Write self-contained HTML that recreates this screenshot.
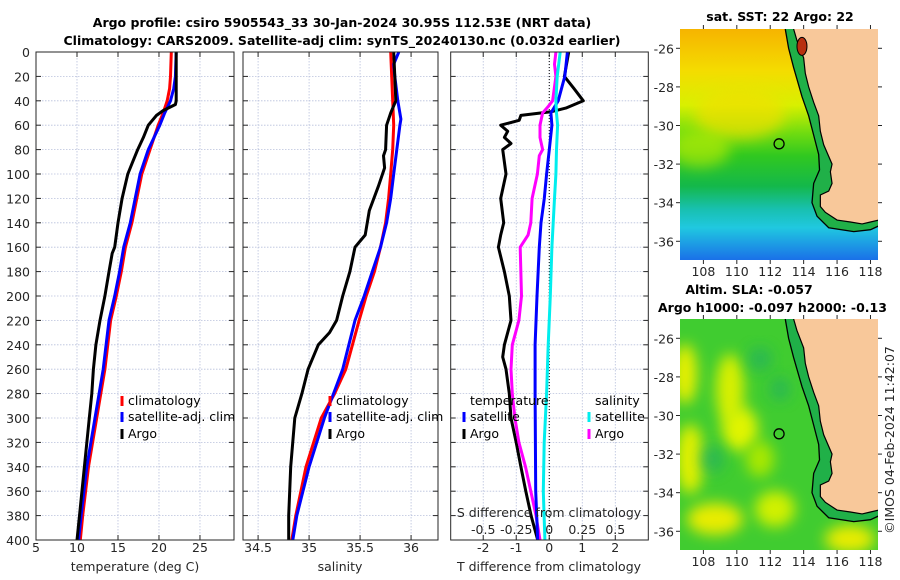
<!DOCTYPE html>
<html><head><meta charset="utf-8"><style>
body{margin:0;background:#fff;}
svg{display:block;font-family:"DejaVu Sans","Liberation Sans",sans-serif;}
</style></head><body>
<svg id="chart" width="900" height="580" viewBox="0 0 900 580" xmlns="http://www.w3.org/2000/svg">
<defs>
<linearGradient id="sstGrad" x1="0" y1="0" x2="0" y2="1">
<stop offset="0" stop-color="#f6b400"/><stop offset="0.18" stop-color="#f4dc00"/>
<stop offset="0.33" stop-color="#d8f000"/><stop offset="0.45" stop-color="#70dc10"/>
<stop offset="0.55" stop-color="#30c820"/><stop offset="0.68" stop-color="#14b84a"/>
<stop offset="0.78" stop-color="#18c0b0"/><stop offset="0.86" stop-color="#20c8e0"/>
<stop offset="1" stop-color="#1a70e8"/></linearGradient>
<filter id="blur" x="-50%" y="-50%" width="200%" height="200%"><feGaussianBlur stdDeviation="7"/></filter>
<clipPath id="clipTop"><rect x="680" y="29" width="198" height="231"/></clipPath>
<clipPath id="clipBot"><rect x="680" y="319" width="198" height="231"/></clipPath>
</defs>
<g id="g-title" font-weight="bold" font-size="12.5" fill="#000" text-anchor="middle">
<text x="342" y="27">Argo profile: csiro 5905543_33 30-Jan-2024 30.95S 112.53E (NRT data)</text>
<text x="342" y="45">Climatology: CARS2009. Satellite-adj clim: synTS_20240130.nc (0.032d earlier)</text>
</g>
<g id="panels"></g>
<g id="maps"></g>
</svg>
<script>
// ---------- data ----------
const depthTicks=[0,20,40,60,80,100,120,140,160,180,200,220,240,260,280,300,320,340,360,380,400];
const tempTicks=[5,10,15,20,25];
const salTicks=[34.5,35,35.5,36];
const dtTicks=[-2,-1,0,1,2];
const dsTicks=[-0.5,-0.25,0,0.25,0.5];
const dsTickLabels=["-0.5","-0.25","0","0.25","0.5"];

const tClimDepth=[0,20,30,40,50,60,80,100,120,140,160,180,200,220,260,300,340,380,400];
const tClim=[21.5,21.4,21.3,21.0,20.5,19.9,18.9,17.9,17.3,16.7,15.9,15.4,14.8,14.1,13.4,12.4,11.4,10.7,10.4];
const tSatDepth=[0,20,30,40,50,60,80,100,120,140,160,180,200,220,260,300,340,380,400];
const tSat=[22.1,22.0,21.8,21.4,20.7,20.1,18.7,17.7,17.1,16.5,15.7,15.2,14.6,13.9,13.2,12.2,11.2,10.5,10.2];
const tArgoDepth=[0,20,40,43,48,52,60,70,80,90,100,120,140,160,165,180,200,220,240,260,280,300,340,380,400];
const tArgo=[22.1,22.1,22.1,22.0,20.5,19.7,18.7,18.1,17.4,16.8,16.2,15.5,15.0,14.6,14.3,13.9,13.4,12.8,12.3,12.0,11.8,11.5,10.9,10.3,10.0];

const sClimDepth=[0,20,40,60,80,100,120,140,160,180,200,220,260,280,300,340,380,400];
const sClim=[35.80,35.81,35.82,35.83,35.82,35.80,35.78,35.75,35.70,35.64,35.56,35.49,35.36,35.25,35.12,34.97,34.87,34.83];
const sSatDepth=[0,10,20,40,55,60,80,100,120,140,160,180,200,220,260,300,340,380,400];
const sSat=[35.88,35.83,35.84,35.87,35.90,35.89,35.86,35.83,35.80,35.76,35.70,35.62,35.54,35.45,35.33,35.15,35.00,34.88,34.84];
const sArgoDepth=[0,20,40,50,60,80,85,95,110,130,150,160,180,200,220,230,240,260,280,300,340,380,400];
const sArgo=[35.83,35.84,35.85,35.80,35.76,35.75,35.73,35.74,35.68,35.59,35.55,35.45,35.40,35.33,35.27,35.20,35.09,34.99,34.93,34.86,34.82,34.80,34.80];

const dDepth=[0,20,40,50,60,80,100,120,140,160,200,240,280,320,360,400];
const dTSat=[0.55,0.47,0.27,0.05,0.08,0.0,-0.08,-0.15,-0.25,-0.3,-0.37,-0.43,-0.43,-0.42,-0.41,-0.35];
const dSSat=[0.083,0.06,0.05,0.055,0.063,0.055,0.05,0.04,0.03,0.02,0.008,-0.008,-0.02,-0.038,-0.045,-0.033];
const dTArgoDepth=[0,20,30,40,46,49,52,56,60,65,70,75,80,100,120,140,150,160,180,200,220,240,250,260,280,300,320,340,360,380,400];
const dTArgo=[0.59,0.46,0.75,1.03,0.5,0.05,-0.86,-0.91,-1.47,-1.26,-1.36,-1.16,-1.41,-1.31,-1.47,-1.38,-1.47,-1.54,-1.36,-1.21,-1.16,-1.36,-1.41,-1.31,-1.21,-1.16,-1.0,-0.86,-0.71,-0.55,-0.35];
const dSArgoDepth=[0,10,20,40,45,50,60,70,80,85,100,120,140,150,160,200,220,240,260,280,300,320,340,360,380,400];
const dSArgo=[0.05,0.04,0.05,0.025,-0.01,-0.05,-0.07,-0.07,-0.05,-0.075,-0.09,-0.13,-0.14,-0.16,-0.22,-0.21,-0.23,-0.28,-0.29,-0.28,-0.26,-0.23,-0.18,-0.14,-0.1,-0.07];

const lonTicks=[108,110,112,114,116,118];
const latTicks=[-26,-28,-30,-32,-34,-36];
const coastLon=[113.4,113.6,114.0,114.1,114.3,114.6,114.9,115.0,115.2,115.5,115.7,115.6,115.7,115.5,115.0,115.0,115.3,116.0,116.8,117.5,118.0,118.5];
const coastLat=[-25,-25.6,-26.5,-27.3,-28,-28.8,-29.5,-30.3,-31,-31.6,-32,-32.4,-33,-33.4,-33.6,-34.2,-34.5,-34.9,-35.0,-35.1,-35.0,-34.9];
const isoLon=[112.9,113.1,113.4,113.9,114.3,114.6,114.9,114.95,114.6,114.5,114.8,115.5,117.0,118.0,118.5];
const isoLat=[-25,-26,-27,-28.5,-29.5,-30.5,-31.5,-32.3,-33,-34,-34.7,-35.3,-35.5,-35.4,-35.2];
const argoLon=112.53, argoLat=-30.95;

// ---------- helpers ----------
const NS="http://www.w3.org/2000/svg";
const FS=12.5;
function el(tag,attrs,parent,txt){const e=document.createElementNS(NS,tag);for(const k in attrs)e.setAttribute(k,attrs[k]);if(txt!==undefined)e.textContent=txt;parent.appendChild(e);return e;}
const Y0=52,Y1=540;
const yD=d=>Y0+(Y1-Y0)*d/400;
const panels=document.getElementById('panels');
function mkX(x0,x1,v0,v1){return v=>x0+(x1-x0)*(v-v0)/(v1-v0);}
function drawPanel(name,x0,x1,ticks,labels,xfn,labelY){
  const g=el('g',{},panels);
  
  
  el('rect',{x:x0,y:Y0,width:x1-x0,height:Y1-Y0,fill:'#fff'},g);
  depthTicks.forEach(d=>{if(d>0&&d<400){const l=el('line',{x1:x0,x2:x1,y1:yD(d),y2:yD(d),stroke:'#b8c0dc','stroke-width':0.8,'stroke-dasharray':'1.5,1.5'},g);
   }
   el('line',{x1:x0,x2:x0+5,y1:yD(d),y2:yD(d),stroke:'#262626'},g);el('line',{x1:x1-5,x2:x1,y1:yD(d),y2:yD(d),stroke:'#262626'},g);});
  ticks.forEach((t,i)=>{const x=xfn(t);
   if(x>x0+1&&x<x1-1){const l=el('line',{x1:x,x2:x,y1:Y0,y2:Y1,stroke:'#b8c0dc','stroke-width':0.8,'stroke-dasharray':'1.5,1.5'},g);
   }
   el('line',{x1:x,x2:x,y1:Y1,y2:Y1-5,stroke:'#262626'},g);el('line',{x1:x,x2:x,y1:Y0,y2:Y0+5,stroke:'#262626'},g);
   const tl=el('text',{x:x,y:labelY,'text-anchor':'middle','font-size':FS,fill:'#262626'},g,labels[i]);
   });
  return g;
}
function frame(g,x0,x1){el('rect',{x:x0,y:Y0,width:x1-x0,height:Y1-Y0,fill:'none',stroke:'#262626','stroke-width':1},g);}
function line(g,name,xs,ds,xfn,color,w){
  const pts=xs.map((v,i)=>xfn(v).toFixed(1)+','+yD(ds[i]).toFixed(1)).join(' ');
  const p=el('polyline',{points:pts,fill:'none',stroke:color,'stroke-width':w||3,'stroke-linejoin':'round'},g);
  return p;
}
function legendEntry(g,name,x,y,color,label){
  const gg=el('g',{},g);
  
  el('line',{x1:x,x2:x,y1:y-9,y2:y+1,stroke:color,'stroke-width':3},gg);
  el('text',{x:x+6,y:y,'font-size':FS,fill:'#000'},gg,label);
}

// Panel 1 temperature
const xT=mkX(36,234,5,29.15);
const p1=drawPanel('temperature-panel',36,234,tempTicks,tempTicks.map(String),xT,552);
depthTicks.forEach(d=>{const t=el('text',{x:30,y:yD(d)+5,'text-anchor':'end','font-size':FS,fill:'#262626'},p1,String(d));
 });
line(p1,'temp-climatology-line',tClim,tClimDepth,xT,'#ff0000');
line(p1,'temp-satellite-line',tSat,tSatDepth,xT,'#0000ff');
line(p1,'temp-argo-line',tArgo,tArgoDepth,xT,'#000000');
frame(p1,36,234);
let xl=el('text',{x:135,y:571,'text-anchor':'middle','font-size':FS,fill:'#262626'},p1,'temperature (deg C)');


// Panel 2 salinity
const xS=mkX(243,438,34.352,36.264);
const p2=drawPanel('salinity-panel',243,438,salTicks,['34.5','35','35.5','36'],xS,552);
line(p2,'sal-climatology-line',sClim,sClimDepth,xS,'#ff0000');
line(p2,'sal-satellite-line',sSat,sSatDepth,xS,'#0000ff');
line(p2,'sal-argo-line',sArgo,sArgoDepth,xS,'#000000');
frame(p2,243,438);
xl=el('text',{x:340,y:571,'text-anchor':'middle','font-size':FS,fill:'#262626'},p2,'salinity');


// Panel 3 differences
const xDT=mkX(450.7,648.3,-2.985,3.0);
const xDS=v=>xDT(v*4);
const p3=drawPanel('difference-panel',450.7,648.3,dtTicks,dtTicks.map(String),xDT,552);
el('line',{x1:xDT(0),x2:xDT(0),y1:Y0,y2:Y1,stroke:'#000','stroke-width':1,'stroke-dasharray':'1,2'},p3);
line(p3,'dT-argo-line',dTArgo,dTArgoDepth,xDT,'#000000');
line(p3,'dS-argo-line',dSArgo,dSArgoDepth,xDS,'#ff00ff');
line(p3,'dT-satellite-line',dTSat,dDepth,xDT,'#0000ff');
line(p3,'dS-satellite-line',dSSat,dDepth,xDS,'#00eeee');
frame(p3,450.7,648.3);
xl=el('text',{x:549,y:571,'text-anchor':'middle','font-size':FS,fill:'#262626'},p3,'T difference from climatology');

xl=el('text',{x:549,y:517,'text-anchor':'middle','font-size':FS,fill:'#262626'},p3,'S difference from climatology');

dsTicks.forEach((t,i)=>{const tl=el('text',{x:xDS(t),y:534,'text-anchor':'middle','font-size':FS,fill:'#262626'},p3,dsTickLabels[i]);
 });

// Legends
const lg1=el('g',{},panels);
legendEntry(lg1,'legend-climatology',122,405,'#ff0000','climatology');
legendEntry(lg1,'legend-satellite-adj',122,421,'#0000ff','satellite-adj. clim');
legendEntry(lg1,'legend-argo',122,438,'#000000','Argo');
const lg2=el('g',{},panels);
legendEntry(lg2,'legend-climatology',330,405,'#ff0000','climatology');
legendEntry(lg2,'legend-satellite-adj',330,421,'#0000ff','satellite-adj. clim');
legendEntry(lg2,'legend-argo',330,438,'#000000','Argo');
const lg3=el('g',{},panels);
el('text',{x:470,y:405,'font-size':FS,fill:'#000'},lg3,'temperature');
el('text',{x:595,y:405,'font-size':FS,fill:'#000'},lg3,'salinity');
legendEntry(lg3,'legend-t-satellite',464,421,'#0000ff','satellite');
legendEntry(lg3,'legend-t-argo',464,438,'#000000','Argo');
legendEntry(lg3,'legend-s-satellite',589,421,'#00eeee','satellite');
legendEntry(lg3,'legend-s-argo',589,438,'#ff00ff','Argo');

// ---------- maps ----------
const maps=document.getElementById('maps');
function drawMap(name,top,title,kind){
  const g=el('g',{},maps);
  const lonX=mkX(680,878,106.6,118.45), latY=mkX(top,top+231,-25,-36.97);
  const clip=kind==='sst'?'url(#clipTop)':'url(#clipBot)';
  const inner=el('g',{'clip-path':clip},g);
  if(kind==='sst'){
    el('rect',{x:680,y:top,width:198,height:231,fill:'url(#sstGrad)'},inner);
    el('ellipse',{cx:740,cy:top+85,rx:45,ry:25,fill:'#f0e000',filter:'url(#blur)',opacity:0.7},inner);
    el('ellipse',{cx:700,cy:top+120,rx:30,ry:18,fill:'#c8f000',filter:'url(#blur)',opacity:0.6},inner);
  } else {
    el('rect',{x:680,y:top,width:198,height:231,fill:'#40cc30'},inner);
    [[685,top+55,12,30,'#e8f000'],[730,top+70,14,35,'#d8f000'],[740,top+110,18,22,'#e0f400'],[690,top+140,14,35,'#e0f000'],
     [715,top+200,28,16,'#e8ec00'],[775,top+190,20,18,'#d0f000'],[850,top+220,25,14,'#e8ec00'],[760,top+140,14,18,'#a8e800']].forEach(b=>{
      el('ellipse',{cx:b[0],cy:b[1],rx:b[2],ry:b[3],fill:b[4],filter:'url(#blur)'},inner);});
    [[760,top+40,12,12],[712,top+140,12,14],[780,top+70,10,12]].forEach(b=>el('ellipse',{cx:b[0],cy:b[1],rx:b[2],ry:b[3],fill:'#20b060',filter:'url(#blur)',opacity:0.7},inner));
  }
  const shelf=isoLon.map((v,i)=>lonX(v)+','+latY(isoLat[i])).join(' ')+' '+coastLon.slice().reverse().map((v,i)=>lonX(v)+','+latY(coastLat[coastLat.length-1-i])).join(' ');
  el('polygon',{points:shelf,fill:'#20b048'},inner);
  const landPts=coastLon.map((v,i)=>lonX(v)+','+latY(coastLat[i])).join(' ')+' '+lonX(118.6)+','+latY(-34.9)+' '+lonX(118.6)+','+latY(-24.9)+' '+lonX(113.4)+','+latY(-24.9);
  const land=el('polygon',{points:landPts,fill:'#f8c89a',stroke:'#000','stroke-width':1.2},inner);
  
  if(kind==='sst') el('ellipse',{cx:lonX(113.9),cy:latY(-25.9),rx:5,ry:9,fill:'#b83010',stroke:'#000'},inner);
  const iso=el('polyline',{points:isoLon.map((v,i)=>lonX(v)+','+latY(isoLat[i])).join(' '),fill:'none',stroke:'#000','stroke-width':1.3},inner);
  
  const c=el('circle',{cx:lonX(argoLon),cy:latY(argoLat),r:5,fill:'none',stroke:'#000','stroke-width':1.3},g);
  
  lonTicks.forEach(t=>{const x=lonX(t);el('line',{x1:x,x2:x,y1:top,y2:top-4,stroke:'#262626'},g);el('line',{x1:x,x2:x,y1:top+231,y2:top+235,stroke:'#262626'},g);
   const tl=el('text',{x:x,y:top+247,'text-anchor':'middle','font-size':FS,fill:'#262626'},g,String(t));
   });
  latTicks.forEach(t=>{const y=latY(t);el('line',{x1:680,x2:676,y1:y,y2:y,stroke:'#262626'},g);el('line',{x1:878,x2:882,y1:y,y2:y,stroke:'#262626'},g);
   const tl=el('text',{x:674,y:y+5,'text-anchor':'end','font-size':FS,fill:'#262626'},g,String(t));
   });
  title.forEach((tt)=>{const t=el('text',{x:tt[1],y:tt[2],'text-anchor':tt[3],'font-size':FS,'font-weight':'bold',fill:'#000'},g,tt[0]);
   });
}
drawMap('sst-map',29,[['sat. SST: 22 Argo: 22',780,21,'middle']],'sst');
drawMap('sla-map',319,[['Altim. SLA: -0.057',749,294,'middle'],['Argo h1000: -0.097 h2000: -0.13',658,312,'start']],'sla');
const cr=el('text',{x:0,y:0,'font-size':FS,fill:'#262626','text-anchor':'middle',transform:'translate(894,440) rotate(-90)'},maps,'©IMOS 04-Feb-2024 11:42:07');

</script>
</body></html>
